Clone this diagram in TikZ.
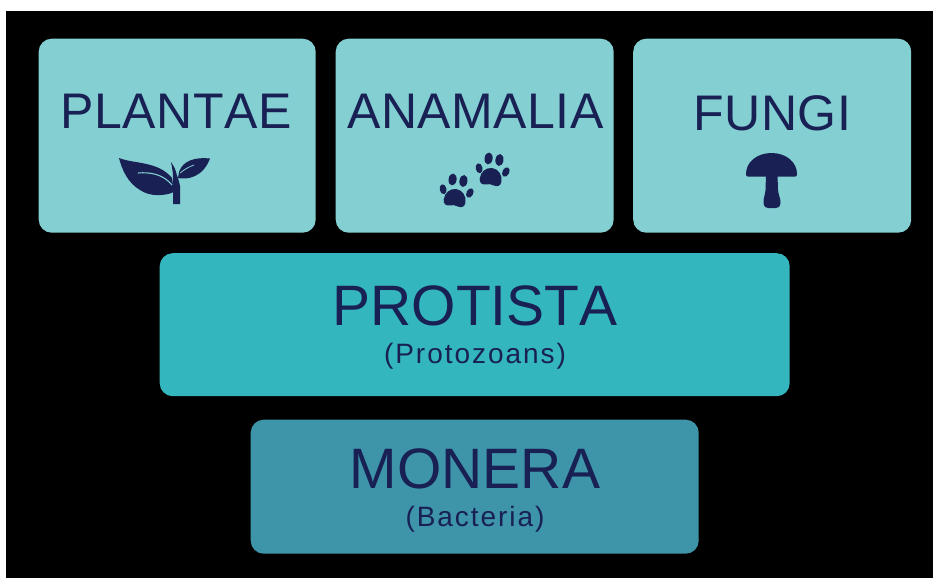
\documentclass[tikz,border=0pt]{standalone}
\usepackage{fontspec}
\setmainfont{Liberation Sans}[Kerning=Off]
\definecolor{navy}{HTML}{182054}
\definecolor{lightteal}{HTML}{83CFD2}
\definecolor{midteal}{HTML}{33B6BD}
\definecolor{darkteal}{HTML}{3E94A9}
\tikzset{
  card/.style={rounded corners=13pt,inner sep=0pt,anchor=north west},
  big/.style={text=navy,font=\addfontfeature{LetterSpace=1}\fontsize{50}{50}\selectfont,inner sep=0pt,anchor=base},
  bigger/.style={text=navy,font=\fontsize{57}{57}\selectfont,inner sep=0pt,anchor=base},
  small/.style={text=navy,font=\addfontfeature{LetterSpace=7}\fontsize{28}{28}\selectfont,inner sep=0pt,anchor=base},
  icon/.style={fill=navy,draw=none},
}
\begin{document}
\begin{tikzpicture}[x=1pt,y=-1pt]
\useasboundingbox (0,0) rectangle (933,578);
\fill[white] (0,0) rectangle (933,578);
\fill[black] (6,11) rectangle (933,578);
\node[card,fill=lightteal,minimum width=277pt,minimum height=194pt] (plantae) at (38.5,38.5) {};
\node[card,fill=lightteal,minimum width=278pt,minimum height=194pt] (anamalia) at (335.5,38.5) {};
\node[card,fill=lightteal,minimum width=278pt,minimum height=194pt] (fungi) at (633,38.5) {};
\node[card,fill=midteal,minimum width=630pt,minimum height=143pt] (protista) at (159.5,253) {};
\node[card,fill=darkteal,minimum width=448pt,minimum height=134pt] (monera) at (250.5,419.5) {};
\node[big] (t1) at (176,128) {PLANTAE};
\node[big] (t2) at (475.5,128) {ANAMALIA};
\node[big] (t3) at (772.5,130) {FUNGI};
\node[bigger] (t4) at (475,325) {PROTISTA};
\node[small] (t4b) at (475,363) {(Protozoans)};
\node[bigger] (t5) at (475,488) {MONERA};
\node[small] (t5b) at (475,526) {(Bacteria)};
% leaf
\fill[icon] (119,158) .. controls (134,164) and (158,161) .. (172,178) -- (174,192) .. controls (165,196) and (150,197) .. (140,190) .. controls (128,183) and (122,170) .. (119,158) -- cycle;
\fill[icon] (210,158.5) .. controls (196,157) and (183,160) .. (179,172) -- (178,178) .. controls (188,180) and (203,177) .. (210,158.5) -- cycle;
\fill[icon] (173,186) -- (173,204) -- (180,204) -- (180,186) .. controls (179,180) and (177,176) .. (176,172) .. controls (175,168) and (173,165) .. (171,162) .. controls (172,167) and (173,172) .. (173,177) -- cycle;
\draw[lightteal,line width=1.1pt] (138,173) .. controls (150,172) and (163,174) .. (172,185);
\draw[lightteal,line width=.8pt] (180,173) .. controls (184,170) and (188,167) .. (194,165);
% paws
\foreach \ox/\oy in {455/198,491/177}{
  \begin{scope}[shift={(\ox,\oy)},rotate=-8]
    \fill[icon] (-11,3) .. controls (-11,-4) and (-6,-9) .. (0,-9) .. controls (6,-9) and (11,-4) .. (11,3) .. controls (11,8) and (7,9) .. (4,8) .. controls (1,7) and (-1,7) .. (-4,8) .. controls (-7,9) and (-11,8) .. (-11,3) -- cycle;
    \fill[icon] (-5,-18) ellipse [x radius=4pt,y radius=6pt];
    \fill[icon] (6,-18) ellipse [x radius=4pt,y radius=6pt];
    \fill[icon,rotate around={20:(-13,-7)}] (-13,-7) ellipse [x radius=3.4pt,y radius=5pt];
    \fill[icon,rotate around={-20:(14,-7)}] (14,-7) ellipse [x radius=3.4pt,y radius=5pt];
  \end{scope}
}
% mushroom
\fill[icon] (746,174) .. controls (746,162) and (757,153) .. (771.5,153) .. controls (786,153) and (797,162) .. (797,174) .. controls (797,176) and (796.5,176.5) .. (795,176.5) -- (748,176.5) .. controls (746.5,176.5) and (746,176) .. (746,174) -- cycle;
\fill[icon] (766,175) -- (765.5,190) .. controls (765,196) and (763,199) .. (763.5,203) .. controls (764,207) and (766,208) .. (768,208) -- (776,208) .. controls (778,208) and (780,207) .. (780.5,203) .. controls (781,199) and (778.5,196) .. (778,190) -- (777.5,175) -- cycle;
\end{tikzpicture}
\end{document}
